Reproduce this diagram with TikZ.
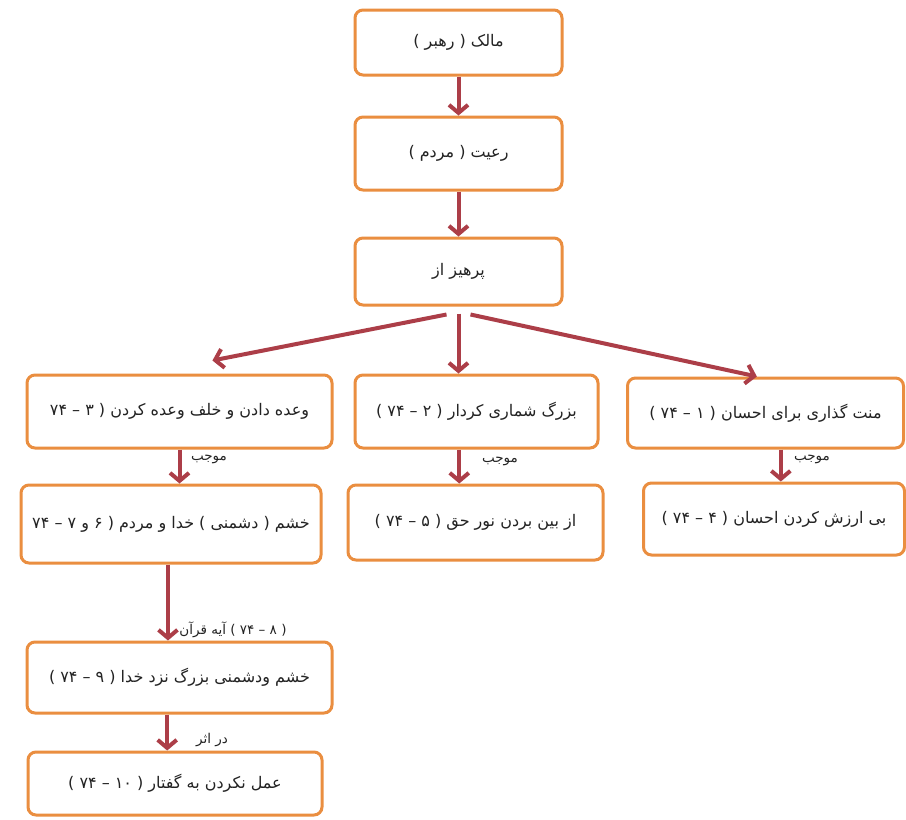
\documentclass[tikz,border=0pt]{standalone}
\usepackage{fontspec}
\newfontfamily\fa[Script=Arabic]{DejaVu Sans}
\TeXXeTstate=1
\usetikzlibrary{arrows.meta,calc}
\definecolor{boxor}{RGB}{234,142,64}
\definecolor{arrred}{RGB}{172,62,72}
\definecolor{txt}{RGB}{35,35,35}
\newcommand{\rtl}[1]{\beginR #1\endR}
\begin{document}
\begin{tikzpicture}[x=1pt,y=-1pt,
  box/.style={draw=boxor, line width=3pt, rounded corners=8pt, fill=white, inner sep=0pt,
              font=\fa\fontsize{16}{19}\selectfont, text=txt},
  arr/.style={draw=arrred, line width=4pt, -{Straight Barb[length=8pt,width=19pt]}},
  lbl/.style={font=\fa\fontsize{13.5}{16}\selectfont, text=txt, inner sep=1pt}]
\path[use as bounding box, fill=white] (0,0) rectangle (906,820);

% boxes
\node[box, minimum width=207pt, minimum height=65pt] (b1) at (458.5,42.5) {\rtl{مالک ( رهبر )}};
\node[box, minimum width=207pt, minimum height=73pt] (b2) at (458.5,153.5) {\rtl{رعیت ( مردم )}};
\node[box, minimum width=207pt, minimum height=67pt] (b3) at (458.5,271.5) {\rtl{پرهیز از}};

\node[box, minimum width=305pt, minimum height=73pt] (l1) at (179.5,411.5) {\rtl{وعده دادن و خلف وعده کردن ( ۳ – ۷۴}};
\node[box, minimum width=243pt, minimum height=73pt] (m1) at (476.5,411.5) {\rtl{بزرگ شماری کردار ( ۲ – ۷۴ )}};
\node[box, minimum width=276pt, minimum height=70pt] (r1) at (765.5,413) {\rtl{منت گذاری برای احسان ( ۱ – ۷۴ )}};

\node[box, minimum width=300pt, minimum height=78pt] (l2) at (171,524) {\rtl{خشم ( دشمنی ) خدا و مردم ( ۶ و ۷ – ۷۴}};
\node[box, minimum width=255pt, minimum height=75pt] (m2) at (475.5,522.5) {\rtl{از بین بردن نور حق ( ۵ – ۷۴ )}};
\node[box, minimum width=261pt, minimum height=72pt] (r2) at (774,519) {\rtl{بی ارزش کردن احسان ( ۴ – ۷۴ )}};

\node[box, minimum width=305pt, minimum height=71pt] (l3) at (179.5,677.5) {\rtl{خشم ودشمنی بزرگ نزد خدا ( ۹ – ۷۴ )}};
\node[box, minimum width=294pt, minimum height=63pt] (l4) at (175,783.5) {\rtl{عمل نکردن به گفتار ( ۱۰ – ۷۴ )}};

% labels
\node[lbl] (t1) at (209,459) {\rtl{موجب}};
\node[lbl] (t2) at (500,461) {\rtl{موجب}};
\node[lbl] (t3) at (812,459) {\rtl{موجب}};
\node[lbl] (t4) at (233,630) {\rtl{( ۸ – ۷۴ ) آیه قرآن}};
\node[lbl] (t5) at (212,740) {\rtl{در اثر}};

% arrows
\draw[arr] (b1.south) -- (b2.north);
\draw[arr] (b2.south) -- (b3.north);
\draw[arr] ([xshift=-12pt,yshift=-8pt]b3.south) -- ($(l1.north west)!0.607!(l1.north east)+(0,-13)$);
\draw[arr] ([yshift=-7pt]b3.south) -- (b3.south |- m1.north);
\draw[arr] ([xshift=12pt,yshift=-8pt]b3.south) -- ($(r1.north west)!0.469!(r1.north east)$);

\draw[arr] (l1.south) -- (l1.south |- l2.north);
\draw[arr] ($(m1.south west)!0.43!(m1.south east)$) coordinate (cm) -- (cm |- m2.north);
\draw[arr] ($(r1.south west)!0.555!(r1.south east)$) coordinate (cr) -- (cr |- r2.north);
\draw[arr] ($(l2.south west)!0.49!(l2.south east)$) coordinate (c23) -- (c23 |- l3.north);
\draw[arr] ($(l3.south west)!0.46!(l3.south east)$) coordinate (c34) -- (c34 |- l4.north);
\end{tikzpicture}
\end{document}
